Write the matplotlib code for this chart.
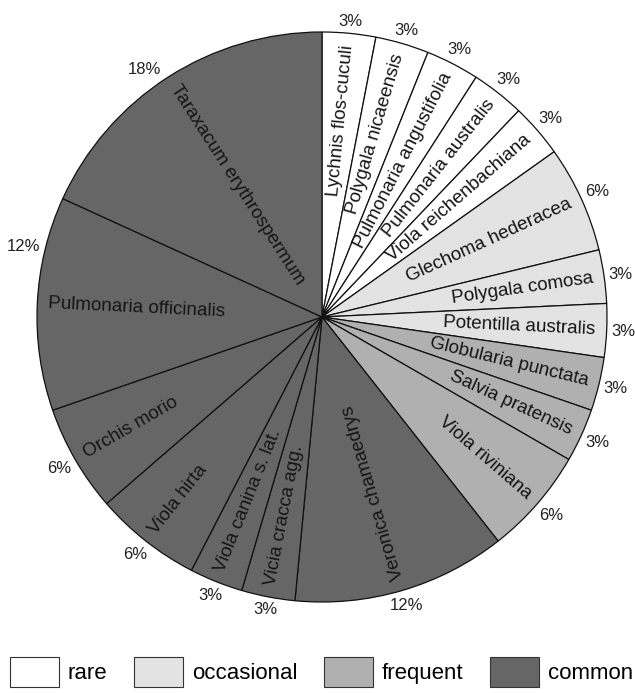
import numpy as np
import matplotlib
matplotlib.use("Agg")
import matplotlib.pyplot as plt
from matplotlib.patches import Patch

plt.rcParams['font.family'] = ['Liberation Sans', 'DejaVu Sans']

# species, number of records (of 33) and frequency class, clockwise from 12 o'clock
species = ["Lychnis flos-cuculi", "Polygala nicaeensis", "Pulmonaria angustifolia",
           "Pulmonaria australis", "Viola reichenbachiana", "Glechoma hederacea",
           "Polygala comosa", "Potentilla australis", "Globularia punctata",
           "Salvia pratensis", "Viola riviniana", "Veronica chamaedrys",
           "Vicia cracca agg.", "Viola canina s. lat.", "Viola hirta",
           "Orchis morio", "Pulmonaria officinalis", "Taraxacum erythrospermum"]
counts = [1, 1, 1, 1, 1, 2, 1, 1, 1, 1, 2, 4, 1, 1, 2, 2, 4, 6]
classes = ["rare"] * 5 + ["occasional"] * 3 + ["frequent"] * 3 + ["common"] * 7

class_names = ["rare", "occasional", "frequent", "common"]
class_colors = {"rare": "#ffffff", "occasional": "#e3e3e3",
                "frequent": "#b0b0b0", "common": "#666666"}

# hand nudges for percent labels (degrees), like in the original layout
pct_nudge = {"Pulmonaria officinalis": -10.5, "Taraxacum erythrospermum": 3.0}

W, H, DPI = 635, 693, 100
R = 285.0          # pie radius in px
CX, CY = 322, 317  # pie centre in px from top-left
L = 1.13

fig = plt.figure(figsize=(W / DPI, H / DPI), dpi=DPI)
ax = fig.add_axes([(CX - L * R) / W, (H - CY - L * R) / H, 2 * L * R / W, 2 * L * R / H])

total = sum(counts)
colors = [class_colors[c] for c in classes]
wedges, _ = ax.pie(counts, colors=colors, startangle=90, counterclock=False,
                   wedgeprops=dict(edgecolor='#111111', linewidth=0.9))
ax.set_xlim(-L, L)
ax.set_ylim(-L, L)
ax.set_aspect('auto')
ax.axis('off')

pct_texts = []
for w, name, n in zip(wedges, species, counts):
    mid = 0.5 * (w.theta1 + w.theta2)
    a = (mid + 180) % 360 - 180
    # species name, radial, anchored near the rim
    if -60 < a <= 100:
        rot, ha = a, 'right'
    else:
        rot, ha = (a + 180 + 180) % 360 - 180, 'left'
    x, y = 0.96 * np.cos(np.radians(a)), 0.96 * np.sin(np.radians(a))
    ax.text(x, y, name, rotation=rot, rotation_mode='anchor', ha=ha, va='center',
            fontsize=13.6, color='#151515')

    pa = a + pct_nudge.get(name, 0.0)
    t = ax.text(0, 0, "%d%%" % round(100.0 * n / total), ha='center', va='center',
                fontsize=12, color='#222222')
    pct_texts.append((t, pa))

fig.canvas.draw()
for t, pa in pct_texts:
    bb = t.get_window_extent()
    hw, hh = bb.width / 2, 7.0
    c, s = np.cos(np.radians(pa)), np.sin(np.radians(pa))
    d = (R + 4 + hw * abs(c) + hh * abs(s)) / R
    t.set_position((d * c, d * s))

handles = [Patch(facecolor=class_colors[c], edgecolor='#333333', linewidth=0.8)
           for c in class_names]
fig.legend(handles, class_names, loc='center left', bbox_to_anchor=(10 / W, 1 - 672 / H),
           ncol=4, frameon=False, fontsize=16, handlelength=2.2, handleheight=1.65,
           handletextpad=0.4, columnspacing=1.2, borderpad=0, borderaxespad=0)

fig.savefig("out.png", dpi=DPI)
